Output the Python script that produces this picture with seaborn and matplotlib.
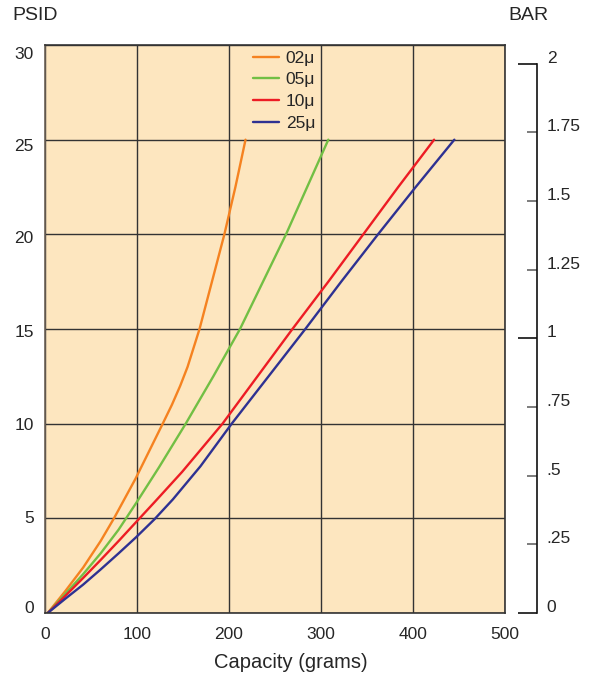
import matplotlib
matplotlib.use('Agg')
import matplotlib.pyplot as plt
import matplotlib.transforms as mtransforms
import seaborn as sns
import pandas as pd

# values (capacity in grams, pressure in PSID)
grades = ['02μ', '05μ', '10μ', '25μ']
colors = ['#F58220', '#72BF44', '#ED1C24', '#2E3192']

cap_02 = [3, 22, 41.5, 60.5, 75, 98.5, 128, 138, 147, 155, 161.5, 168, 181.5, 195, 207, 218]
psid_02 = [0, 1.15, 2.4, 3.8, 5, 7.1, 10, 11, 12, 13, 14, 15, 17.5, 20, 22.5, 25]

cap_05 = [3, 22, 41.5, 60.5, 80, 99, 124, 153, 183, 212, 237, 262, 285, 308]
psid_05 = [0, 1.0, 2.05, 3.15, 4.4, 5.8, 7.7, 10, 12.5, 15, 17.5, 20, 22.5, 25]

cap_10 = [3, 22, 41.5, 60.5, 80, 99, 119, 149, 193, 231, 269, 308, 346, 384, 423]
psid_10 = [0, 0.9, 1.85, 2.8, 3.8, 4.8, 5.85, 7.45, 10, 12.5, 15, 17.5, 20, 22.5, 25]

cap_25 = [3, 22, 41.5, 60.5, 80, 99, 119, 139, 169, 203, 243, 283, 322, 362, 403, 445]
psid_25 = [0, 0.75, 1.5, 2.3, 3.15, 4.0, 4.95, 6.0, 7.75, 10, 12.5, 15, 17.5, 20, 22.5, 25]

psid_ticks = [0, 5, 10, 15, 20, 25, 30]
capacity_ticks = [0, 100, 200, 300, 400, 500]
bar_major = [0, 1, 2]
bar_major_labels = ['0', '1', '2']
bar_minor = [0.25, 0.5, 0.75, 1.25, 1.5, 1.75]
bar_minor_labels = ['.25', '.5', '.75', '1.25', '1.5', '1.75']
PSI_PER_BAR = 14.5038

sns.set_style('white')
plt.rcParams['font.family'] = ['Liberation Sans', 'DejaVu Sans']

frames = []
for g, c, p in zip(grades, [cap_02, cap_05, cap_10, cap_25], [psid_02, psid_05, psid_10, psid_25]):
    frames.append(pd.DataFrame({'capacity': c, 'psid': p, 'grade': g}))
df = pd.concat(frames, ignore_index=True)

fig = plt.figure(figsize=(5.91, 6.79), dpi=100)
ax = fig.add_axes([0.0761, 0.0972, 0.7783, 0.8365])
ax.set_facecolor('#FDE6BF')

sns.lineplot(data=df, x='capacity', y='psid', hue='grade', palette=colors,
             estimator=None, sort=False, linewidth=1.7, ax=ax)
for ln in ax.get_lines():
    ln.set_solid_joinstyle('round')

ax.set_xlim(0, 500)
ax.set_ylim(0, 30)
ax.set_xticks(capacity_ticks)
ax.set_xticks([v for v in range(25, 500, 25) if v % 100], minor=True)
ax.set_yticks(psid_ticks)
ax.grid(True, which='major', color='#333333', linewidth=1.0)
ax.set_axisbelow(True)
ax.tick_params(axis='x', which='major', length=0, pad=10, labelsize=12.5)
ax.tick_params(axis='x', which='minor', direction='in', length=7, width=1, color='#333333')
ax.tick_params(axis='y', length=0, pad=8, labelsize=12.5)
for s in ax.spines.values():
    s.set_visible(True)
    s.set_color('#333333')
    s.set_linewidth(1.2)
ax.spines['left'].set_color('#6b6055')
ax.set_xlabel('')
ax.set_ylabel('')

# left labels sit slightly toward the middle in the original
left_nudge = {0: 6, 5: 1, 10: 0, 15: -2, 20: -3, 25: -5, 30: -8}
for t, v in zip(ax.yaxis.get_major_ticks(), psid_ticks):
    off = mtransforms.ScaledTranslation(0, left_nudge[v] / 100, fig.dpi_scale_trans)
    t.label1.set_transform(t.label1.get_transform() + off)

sns.move_legend(ax, 'upper left', bbox_to_anchor=(0.452, 0.99), title=None,
                frameon=False, borderaxespad=0, borderpad=0, handlelength=1.5,
                handletextpad=0.4, labelspacing=0.37, fontsize=12.5)

# BAR scale on the right
ax2 = ax.twinx()
ax2.set_ylim(0, 30 / PSI_PER_BAR)
for k in ['top', 'left', 'bottom']:
    ax2.spines[k].set_visible(False)
ax2.spines['right'].set_position(('axes', 1.0696))
ax2.spines['right'].set_bounds(0, 2)
ax2.spines['right'].set_color('#111111')
ax2.spines['right'].set_linewidth(1.2)
ax2.set_yticks(bar_major)
ax2.set_yticklabels(bar_major_labels)
ax2.set_yticks(bar_minor, minor=True)
ax2.set_yticklabels(bar_minor_labels, minor=True)
ax2.tick_params(axis='y', which='major', direction='in', length=14, width=1.2,
                color='#111111', pad=7, labelsize=12.5)
ax2.tick_params(axis='y', which='minor', direction='in', length=7, width=1.2,
                color='#666666', pad=7, labelsize=12.5)
shift = mtransforms.ScaledTranslation(0, 0.07, fig.dpi_scale_trans)
for t in ax2.yaxis.get_major_ticks() + ax2.yaxis.get_minor_ticks():
    t.label2.set_transform(t.label2.get_transform() + shift)

fig.text(12 / 591, 1 - 16 / 679, 'PSID', ha='left', va='center', fontsize=14)
fig.text(508 / 591, 1 - 15 / 679, 'BAR', ha='left', va='center', fontsize=14)
fig.text(291 / 591, 1 - 663 / 679, 'Capacity (grams)', ha='center', va='center', fontsize=14.5)

fig.savefig('out.png', dpi=100)
